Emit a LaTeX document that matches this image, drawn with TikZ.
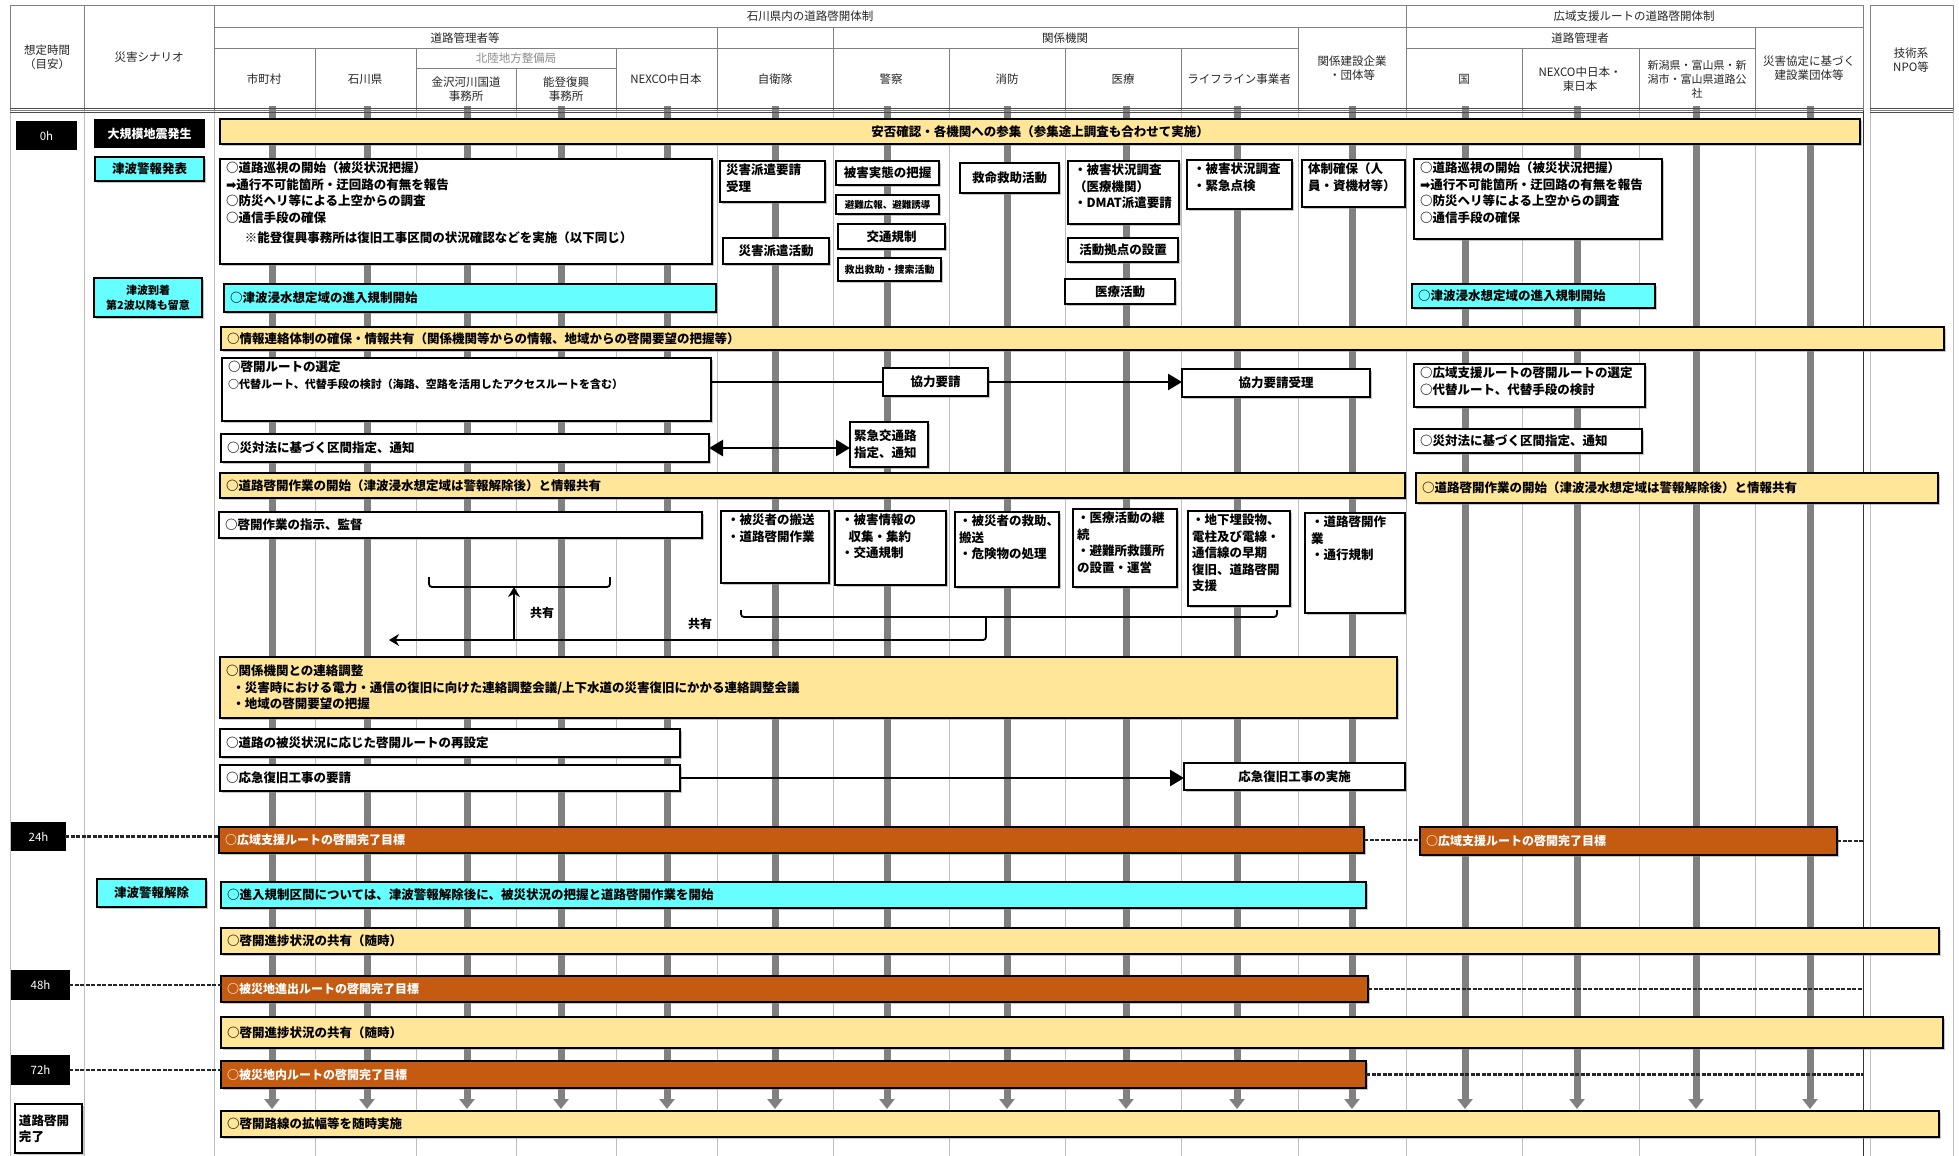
\documentclass[tikz,border=0pt]{standalone}
\usepackage{fontspec}
\setmainfont{Noto Sans CJK JP}
\newfontfamily\symfont{DejaVu Sans}
\usetikzlibrary{arrows.meta,shadows}

\definecolor{paleyellow}{RGB}{255,230,153}
\definecolor{tsunamicyan}{RGB}{102,255,255}
\definecolor{targetorange}{RGB}{197,90,17}
\definecolor{laneg}{RGB}{128,128,128}
\definecolor{gridg}{RGB}{190,190,190}

\tikzstyle{cell} = [inner xsep=6pt, inner ysep=3pt, outer sep=0pt, draw=black, line width=1.1pt]
\tikzstyle{whitebox} = [cell, fill=white, drop shadow={shadow xshift=1.5pt, shadow yshift=-1.5pt, fill=black!45}, font=\fontsize{12.5}{16.5}\selectfont\bfseries]
\tikzstyle{yellowbar} = [whitebox, fill=paleyellow]
\tikzstyle{cyanbar} = [whitebox, fill=tsunamicyan]
\tikzstyle{orangebar} = [whitebox, fill=targetorange, text=white, font=\fontsize{12}{15}\selectfont\bfseries]
\tikzstyle{timebox} = [cell, fill=black, text=white, font=\fontsize{11.5}{14}\selectfont]
\tikzstyle{head} = [align=center, font=\fontsize{11.5}{14.5}\selectfont, text=black!85]
\tikzstyle{lane} = [line width=7pt, draw=laneg, -{Triangle[width=15pt,length=10pt]}]
\tikzstyle{grid} = [gridg, line width=0.8pt]
\tikzstyle{headline} = [black!50, line width=0.8pt]
\tikzstyle{dashrule} = [line width=2.5pt, black!85, dash pattern=on 4pt off 1.5pt]
\tikzstyle{flow} = [line width=2.6pt, -{Triangle[width=16pt,length=14pt]}]
\tikzstyle{share} = [line width=1.8pt, rounded corners=3pt]
\tikzstyle{sharelabel} = [font=\fontsize{12}{14}\selectfont\bfseries]

% box from (x1,y1) to (x2,y2), text placed t(op) or c(entre)
\newcommand{\planbox}[8]{%
  \node[#2, anchor=north west] (#1) at (#3,#4)
    {\parbox[c][\dimexpr#6pt-#4pt-6pt\relax][#7]{\dimexpr#5pt-#3pt-12pt\relax}{#8}};}

\begin{document}
\begin{tikzpicture}[x=1pt, y=-1pt]
\useasboundingbox (0,0) rectangle (1959,1156);
\fill[white] (0,0) rectangle (1959,1156);

%grid
\foreach \gx in {10,84,214,315,416,516,616,717,833,949,1065,1181,1298,1406,1522,1639,1755,1870,1953}
  \draw[grid] (\gx,110) -- (\gx,1156);
\draw[black!80, line width=1pt] (1863,110) -- (1863,1156);

%header
\draw[headline] (10,5) rectangle (1863,110);
\draw[headline] (1870,5) rectangle (1953,110);
\draw[headline] (84,5) -- (84,110) (214,5) -- (214,110) (1406,5) -- (1406,110);
\draw[headline] (214,27) -- (1863,27);
\foreach \hx in {717,833,1298,1755}
  \draw[headline] (\hx,27) -- (\hx,110);
\draw[headline] (214,48) -- (1298,48) (1406,48) -- (1755,48);
\foreach \hx in {315,416,616,949,1065,1181,1522,1639}
  \draw[headline] (\hx,48) -- (\hx,110);
\draw[headline] (416,68) -- (616,68) (516,68) -- (516,110);

\node[head] (hTime) at (47,57) {想定時間\\（目安）};
\node[head] (hScen) at (149,57) {災害シナリオ};
\node[head] (hIshi) at (810,16) {石川県内の道路啓開体制};
\node[head] (hWide) at (1634,16) {広域支援ルートの道路啓開体制};
\node[head] (hRoad) at (465,38) {道路管理者等};
\node[head] (hRel) at (1065,38) {関係機関};
\node[head] (hRoadW) at (1580,38) {道路管理者};
\node[head, text=black!45] (hHoku) at (516,58) {北陸地方整備局};
\node[head] (cMuni) at (264,79) {市町村};
\node[head] (cPref) at (365,79) {石川県};
\node[head] (cKana) at (466,89) {金沢河川国道\\事務所};
\node[head] (cNoto) at (566,89) {能登復興\\事務所};
\node[head] (cNexC) at (666,79) {NEXCO中日本};
\node[head] (cSdf) at (775,79) {自衛隊};
\node[head] (cPol) at (891,79) {警察};
\node[head] (cFire) at (1007,79) {消防};
\node[head] (cMed) at (1123,79) {医療};
\node[head] (cLife) at (1239,79) {ライフライン事業者};
\node[head] (cCons) at (1352,68) {関係建設企業\\・団体等};
\node[head] (cNat) at (1464,79) {国};
\node[head] (cNexE) at (1580,79) {NEXCO中日本・\\東日本};
\node[head, font=\fontsize{11}{14}\selectfont] (cNii) at (1697,79) {新潟県・富山県・新\\潟市・富山県道路公\\社};
\node[head] (cAgr) at (1809,68) {災害協定に基づく\\建設業団体等};
\node[head] (cNpo) at (1911,60) {技術系\\NPO等};

%lanes
\foreach \lx in {272,367,467,561,667,775,887,1007,1126,1237,1352,1465,1577,1696,1810}
  \draw[lane] (\lx,106) -- (\lx,1109);
\draw[black!70, line width=1pt] (10,108.5) -- (1863,108.5) (10,112) -- (1863,112);
\draw[black!70, line width=1pt] (1870,108.5) -- (1953,108.5) (1870,112) -- (1953,112);

%time and scenario
\planbox{t0}{timebox}{17}{122}{76}{149}{c}{\centering 0h}
\planbox{t24}{timebox}{12}{823}{65}{850}{c}{\centering 24h}
\planbox{t48}{timebox}{12}{971}{69}{999}{c}{\centering 48h}
\planbox{t72}{timebox}{12}{1056}{69}{1084}{c}{\centering 72h}
\planbox{tDone}{whitebox, inner xsep=4pt}{15}{1104}{86}{1153}{c}{道路啓開\\完了}
\planbox{sQuake}{timebox, font=\fontsize{12}{14}\selectfont\bfseries}{95}{120}{204}{147}{c}{\centering 大規模地震発生}
\planbox{sWarn}{cyanbar}{95}{157}{204}{181}{c}{\centering 津波警報発表}
\planbox{sArrive}{cyanbar, font=\fontsize{11}{15}\selectfont\bfseries}{94}{278}{202}{317}{c}{\centering 津波到着\\第2波以降も留意}
\planbox{sLift}{cyanbar}{97}{879}{206}{907}{c}{\centering 津波警報解除}

%0h block
\planbox{rSafety}{yellowbar}{220}{119}{1860}{144}{c}{\centering 安否確認・各機関への参集（参集途上調査も合わせて実施）}
\planbox{rPatrol}{whitebox}{220}{159}{712}{264}{t}{○道路巡視の開始（被災状況把握）\\{\symfont ➡}通行不可能箇所・迂回路の有無を報告\\○防災ヘリ等による上空からの調査\\○通信手段の確保\\[4pt]\hspace*{1.5em}※能登復興事務所は復旧工事区間の状況確認などを実施（以下同じ）}
\planbox{kSdfReq}{whitebox}{720}{161}{825}{202}{t}{災害派遣要請\\受理}
\planbox{kSdfAct}{whitebox}{723}{238}{829}{264}{c}{\centering 災害派遣活動}
\planbox{kPolDmg}{whitebox, inner xsep=4pt}{836}{161}{943}{185}{c}{\centering 被害実態の把握}
\planbox{kPolEvac}{whitebox, inner xsep=4pt, font=\fontsize{9.5}{12}\selectfont\bfseries}{836}{195}{943}{214}{c}{\centering 避難広報、避難誘導}
\planbox{kPolTraf}{whitebox}{838}{224}{945}{249}{c}{\centering 交通規制}
\planbox{kPolRes}{whitebox, inner xsep=4pt, font=\fontsize{10}{12}\selectfont\bfseries}{838}{258}{945}{281}{c}{\centering 救出救助・捜索活動}
\planbox{kFire}{whitebox}{960}{163}{1059}{193}{c}{\centering 救命救助活動}
\planbox{kMedSur}{whitebox}{1068}{161}{1179}{224}{t}{・被害状況調査\\（医療機関）\\・DMAT派遣要請}
\planbox{kMedBase}{whitebox}{1068}{238}{1178}{262}{c}{\centering 活動拠点の設置}
\planbox{kMedAct}{whitebox}{1065}{279}{1175}{304}{c}{\centering 医療活動}
\planbox{kLife}{whitebox}{1187}{160}{1292}{209}{t}{・被害状況調査\\・緊急点検}
\planbox{kCons}{whitebox}{1302}{160}{1405}{207}{t}{体制確保（人\\員・資機材等）}
\planbox{rPatrolW}{whitebox}{1414}{159}{1662}{239}{t}{○道路巡視の開始（被災状況把握）\\{\symfont ➡}通行不可能箇所・迂回路の有無を報告\\○防災ヘリ等による上空からの調査\\○通信手段の確保}
\planbox{rEntry}{cyanbar}{224}{284}{716}{312}{c}{○津波浸水想定域の進入規制開始}
\planbox{rEntryW}{cyanbar}{1412}{284}{1655}{308}{c}{○津波浸水想定域の進入規制開始}

%routes
\planbox{rInfo}{yellowbar}{221}{327}{1944}{350}{c}{○情報連絡体制の確保・情報共有（関係機関等からの情報、地域からの啓開要望の把握等）}
\planbox{rRoute}{whitebox}{222}{358}{711}{421}{t}{○啓開ルートの選定\\{\fontsize{11}{14}\selectfont ○代替ルート、代替手段の検討（海路、空路を活用したアクセスルートを含む）}}
\planbox{kReq}{whitebox}{883}{368}{988}{396}{c}{\centering 協力要請}
\planbox{kReqRecv}{whitebox}{1182}{369}{1370}{397}{c}{\centering 協力要請受理}
\planbox{rRouteW}{whitebox}{1414}{364}{1645}{407}{t}{○広域支援ルートの啓開ルートの選定\\○代替ルート、代替手段の検討}
\planbox{rDesig}{whitebox}{221}{434}{709}{462}{c}{○災対法に基づく区間指定、通知}
\planbox{kEmerg}{whitebox, inner xsep=4pt}{850}{422}{932}{467}{c}{緊急交通路\\指定、通知}
\planbox{rDesigW}{whitebox}{1414}{429}{1642}{453}{c}{○災対法に基づく区間指定、通知}
\planbox{rStart}{yellowbar}{220}{473}{1405}{498}{c}{○道路啓開作業の開始（津波浸水想定域は警報解除後）と情報共有}
\planbox{rStartW}{yellowbar}{1416}{473}{1938}{503}{c}{○道路啓開作業の開始（津波浸水想定域は警報解除後）と情報共有}
\draw[line width=2.6pt] (rRoute.east |- kReq.west) -- (kReq.west);
\draw[flow] (kReq.east) -- (kReq.east -| kReqRecv.west);
\draw[line width=2.6pt, {Triangle[width=16pt,length=14pt]}-{Triangle[width=16pt,length=14pt]}] (rDesig.east) -- (rDesig.east -| kEmerg.west);

%work
\planbox{rDirect}{whitebox}{219}{512}{702}{538}{c}{○啓開作業の指示、監督}
\planbox{kSdfWork}{whitebox}{721}{511}{829}{583}{t}{・被災者の搬送\\・道路啓開作業}
\planbox{kPolInfo}{whitebox}{835}{511}{946}{585}{t}{・被害情報の\\\hspace*{0.6em}収集・集約\\・交通規制}
\planbox{kFireRes}{whitebox, inner xsep=4pt}{955}{512}{1063}{587}{t}{・被災者の救助、\\搬送\\・危険物の処理}
\planbox{kMedCont}{whitebox, inner xsep=4pt}{1073}{509}{1181}{587}{t}{・医療活動の継\\続\\・避難所救護所\\の設置・運営}
\planbox{kLifeRec}{whitebox, inner xsep=4pt}{1188}{511}{1294}{606}{t}{・地下埋設物、\\電柱及び電線・\\通信線の早期\\復旧、道路啓開\\支援}
\planbox{kConsWork}{whitebox}{1305}{513}{1405}{613}{t}{・道路啓開作\\業\\・通行規制}

%sharing
\draw[share] (429,577) -- (429,587) -- (610,587) -- (610,577);
\draw[share] (741,610) -- (741,617) -- (1277,617) -- (1277,610);
\coordinate (brL) at (514,587);
\coordinate (brR) at (986,617);
\coordinate (shEnd) at (389,640);
\draw[share, -{Stealth[width=12pt,length=10pt]}] (brR) -- (brR |- shEnd) -- (shEnd);
\draw[line width=1.8pt, -{Stealth[width=12pt,length=10pt]}] (brL |- shEnd) -- (brL);
\node[sharelabel] (lbShareA) at (542,613) {共有};
\node[sharelabel] (lbShareB) at (700,624) {共有};

\planbox{rLiaison}{yellowbar}{220}{657}{1397}{718}{c}{○関係機関との連絡調整\\\hspace*{0.5em}・災害時における電力・通信の復旧に向けた連絡調整会議/上下水道の災害復旧にかかる連絡調整会議\\\hspace*{0.5em}・地域の啓開要望の把握}
\planbox{rReset}{whitebox}{220}{729}{680}{757}{c}{○道路の被災状況に応じた啓開ルートの再設定}
\planbox{rRepReq}{whitebox}{220}{765}{680}{791}{c}{○応急復旧工事の要請}
\planbox{kRepDo}{whitebox}{1184}{763}{1405}{790}{c}{\centering 応急復旧工事の実施}
\draw[flow] (rRepReq.east) -- (rRepReq.east -| kRepDo.west);

%targets
\coordinate (eR) at (1863,0);
\planbox{rGoalA}{orangebar}{219}{827}{1364}{853}{c}{○広域支援ルートの啓開完了目標}
\planbox{rGoalAW}{orangebar}{1420}{827}{1837}{855}{c}{○広域支援ルートの啓開完了目標}
\planbox{rLift}{cyanbar}{221}{882}{1366}{908}{c}{○進入規制区間については、津波警報解除後に、被災状況の把握と道路啓開作業を開始}
\planbox{rShareA}{yellowbar}{221}{928}{1939}{954}{c}{○啓開進捗状況の共有（随時）}
\planbox{rGoalB}{orangebar}{221}{976}{1368}{1002}{c}{○被災地進出ルートの啓開完了目標}
\planbox{rShareB}{yellowbar}{221}{1017}{1943}{1048}{c}{○啓開進捗状況の共有（随時）}
\planbox{rGoalC}{orangebar}{221}{1061}{1366}{1088}{c}{○被災地内ルートの啓開完了目標}
\planbox{rWiden}{yellowbar}{221}{1111}{1939}{1137}{c}{○啓開路線の拡幅等を随時実施}

\draw[dashrule] (t24.east) -- (t24.east -| rGoalA.west);
\draw[dashrule] (rGoalA.east) -- (rGoalA.east -| rGoalAW.west);
\draw[dashrule] (rGoalAW.east) -- (rGoalAW.east -| eR);
\draw[dashrule] (t48.east) -- (t48.east -| rGoalB.west);
\draw[dashrule] (rGoalB.east) -- (rGoalB.east -| eR);
\draw[dashrule] (t72.east) -- (t72.east -| rGoalC.west);
\draw[dashrule] (rGoalC.east) -- (rGoalC.east -| eR);
\end{tikzpicture}
\end{document}
